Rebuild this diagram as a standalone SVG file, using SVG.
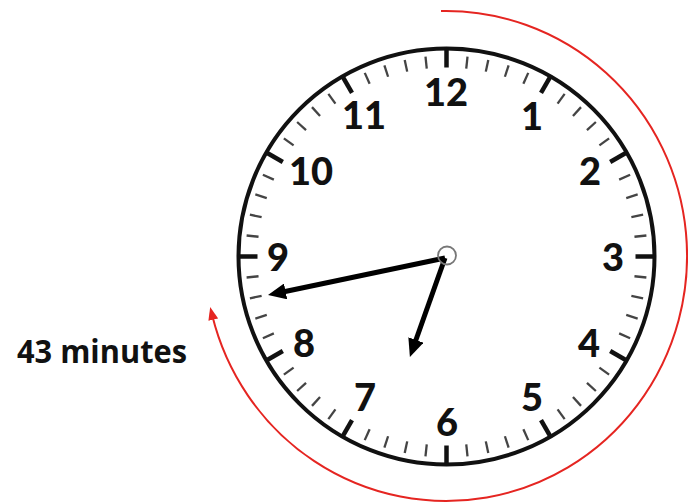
<svg xmlns="http://www.w3.org/2000/svg" xmlns:xlink="http://www.w3.org/1999/xlink" width="688" height="504" viewBox="0 0 688 504">
  <style>
    .num { font-family: Lato, "Open Sans", "Noto Sans", sans-serif; font-weight: 900; font-size: 38px; fill: #111; text-anchor: middle; }
    .label { font-family: "Open Sans", Lato, "Noto Sans", sans-serif; font-weight: 700; font-size: 33px; fill: #111; }
    .major { stroke: #111; stroke-width: 4.5; }
    .minor { stroke: #444; stroke-width: 2.3; }
    .hand { stroke: #000; stroke-width: 5; fill: none; }
    .elapsed { stroke: #e52521; stroke-width: 2; fill: none; }
  </style>
  <defs>
    <marker id="handHead" viewBox="0 0 18 16" markerWidth="18" markerHeight="16" refX="9" refY="8" orient="auto" markerUnits="userSpaceOnUse">
      <path d="M0,0 L18,8 L0,16 z" fill="#000"/>
    </marker>
    <marker id="redHead" viewBox="0 0 13 10" markerWidth="13" markerHeight="10" refX="4.5" refY="5" orient="auto" markerUnits="userSpaceOnUse">
      <path d="M0,0 L13,5 L0,10 z" fill="#e52521"/>
    </marker>
    <line id="tMajor" class="major" x1="0" y1="-189" x2="0" y2="-208"/>
    <line id="tMinor" class="minor" x1="0" y1="-189" x2="0" y2="-201"/>
  </defs>
  <rect width="688" height="504" fill="#fff"/>

  <g id="clock-face">
    <circle cx="446.5" cy="256.5" r="208" fill="#fff" stroke="#111" stroke-width="4"/>
    <g id="ticks" transform="translate(446.5,256.5)">
      <use xlink:href="#tMajor" transform="rotate(0)"/>
      <use xlink:href="#tMinor" transform="rotate(6)"/>
      <use xlink:href="#tMinor" transform="rotate(12)"/>
      <use xlink:href="#tMinor" transform="rotate(18)"/>
      <use xlink:href="#tMinor" transform="rotate(24)"/>
      <use xlink:href="#tMajor" transform="rotate(30)"/>
      <use xlink:href="#tMinor" transform="rotate(36)"/>
      <use xlink:href="#tMinor" transform="rotate(42)"/>
      <use xlink:href="#tMinor" transform="rotate(48)"/>
      <use xlink:href="#tMinor" transform="rotate(54)"/>
      <use xlink:href="#tMajor" transform="rotate(60)"/>
      <use xlink:href="#tMinor" transform="rotate(66)"/>
      <use xlink:href="#tMinor" transform="rotate(72)"/>
      <use xlink:href="#tMinor" transform="rotate(78)"/>
      <use xlink:href="#tMinor" transform="rotate(84)"/>
      <use xlink:href="#tMajor" transform="rotate(90)"/>
      <use xlink:href="#tMinor" transform="rotate(96)"/>
      <use xlink:href="#tMinor" transform="rotate(102)"/>
      <use xlink:href="#tMinor" transform="rotate(108)"/>
      <use xlink:href="#tMinor" transform="rotate(114)"/>
      <use xlink:href="#tMajor" transform="rotate(120)"/>
      <use xlink:href="#tMinor" transform="rotate(126)"/>
      <use xlink:href="#tMinor" transform="rotate(132)"/>
      <use xlink:href="#tMinor" transform="rotate(138)"/>
      <use xlink:href="#tMinor" transform="rotate(144)"/>
      <use xlink:href="#tMajor" transform="rotate(150)"/>
      <use xlink:href="#tMinor" transform="rotate(156)"/>
      <use xlink:href="#tMinor" transform="rotate(162)"/>
      <use xlink:href="#tMinor" transform="rotate(168)"/>
      <use xlink:href="#tMinor" transform="rotate(174)"/>
      <use xlink:href="#tMajor" transform="rotate(180)"/>
      <use xlink:href="#tMinor" transform="rotate(186)"/>
      <use xlink:href="#tMinor" transform="rotate(192)"/>
      <use xlink:href="#tMinor" transform="rotate(198)"/>
      <use xlink:href="#tMinor" transform="rotate(204)"/>
      <use xlink:href="#tMajor" transform="rotate(210)"/>
      <use xlink:href="#tMinor" transform="rotate(216)"/>
      <use xlink:href="#tMinor" transform="rotate(222)"/>
      <use xlink:href="#tMinor" transform="rotate(228)"/>
      <use xlink:href="#tMinor" transform="rotate(234)"/>
      <use xlink:href="#tMajor" transform="rotate(240)"/>
      <use xlink:href="#tMinor" transform="rotate(246)"/>
      <use xlink:href="#tMinor" transform="rotate(252)"/>
      <use xlink:href="#tMinor" transform="rotate(258)"/>
      <use xlink:href="#tMinor" transform="rotate(264)"/>
      <use xlink:href="#tMajor" transform="rotate(270)"/>
      <use xlink:href="#tMinor" transform="rotate(276)"/>
      <use xlink:href="#tMinor" transform="rotate(282)"/>
      <use xlink:href="#tMinor" transform="rotate(288)"/>
      <use xlink:href="#tMinor" transform="rotate(294)"/>
      <use xlink:href="#tMajor" transform="rotate(300)"/>
      <use xlink:href="#tMinor" transform="rotate(306)"/>
      <use xlink:href="#tMinor" transform="rotate(312)"/>
      <use xlink:href="#tMinor" transform="rotate(318)"/>
      <use xlink:href="#tMinor" transform="rotate(324)"/>
      <use xlink:href="#tMajor" transform="rotate(330)"/>
      <use xlink:href="#tMinor" transform="rotate(336)"/>
      <use xlink:href="#tMinor" transform="rotate(342)"/>
      <use xlink:href="#tMinor" transform="rotate(348)"/>
      <use xlink:href="#tMinor" transform="rotate(354)"/>
    </g>
    <g id="numerals">
      <text class="num" x="446" y="106">12</text>
      <text class="num" x="532" y="130">1</text>
      <text class="num" x="590" y="185">2</text>
      <text class="num" x="613" y="271">3</text>
      <text class="num" x="589" y="357">4</text>
      <text class="num" x="532" y="411">5</text>
      <text class="num" x="447" y="436">6</text>
      <text class="num" x="365" y="411">7</text>
      <text class="num" x="304" y="357">8</text>
      <text class="num" x="278" y="271">9</text>
      <text class="num" x="311" y="185">10</text>
      <text class="num" x="364" y="129">11</text>
    </g>
  </g>

  <g id="connectors">
    <line id="minute-hand" class="hand" x1="445" y1="258" x2="276.8" y2="293.2" marker-end="url(#handHead)"/>
    <line id="hour-hand" class="hand" x1="445" y1="258" x2="412.9" y2="348.5" marker-end="url(#handHead)"/>
    <path id="elapsed-arc" class="elapsed" d="M441,11.1 A241,245 0 1 1 212.2,315.3" marker-end="url(#redHead)"/>
  </g>

  <g id="pivot">
    <circle cx="447" cy="255.5" r="9" fill="none" stroke="#777" stroke-width="1.8"/>
  </g>

  <g id="label">
    <text class="label" x="17" y="363" textLength="170" lengthAdjust="spacingAndGlyphs">43 minutes</text>
  </g>
</svg>
